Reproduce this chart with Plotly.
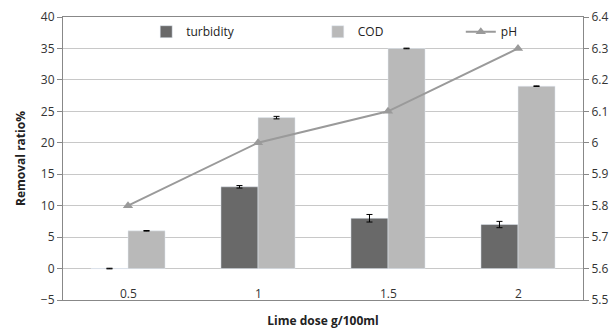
import plotly.graph_objects as go

categories = ["0.5", "1", "1.5", "2"]
turbidity = [0, 13, 8, 7]
turbidity_err = [0.05, 0.2, 0.6, 0.5]
cod = [6, 24, 35, 29]
cod_err = [0.05, 0.2, 0.05, 0.05]
ph = [5.8, 6.0, 6.1, 6.3]
left_ticks = list(range(-5, 41, 5))
right_ticks = [5.5, 5.6, 5.7, 5.8, 5.9, 6.0, 6.1, 6.2, 6.3, 6.4]
right_labels = ["5.5", "5.6", "5.7", "5.8", "5.9", "6", "6.1", "6.2", "6.3", "6.4"]

FONT = "Open Sans, Liberation Sans, sans-serif"
fig = go.Figure()
fig.add_trace(go.Bar(x=categories, y=turbidity, name="turbidity", marker_color="#696969",
                     error_y=dict(type="data", array=turbidity_err, color="black", thickness=1, width=3),
                     legend="legend"))
fig.add_trace(go.Bar(x=categories, y=cod, name="COD", marker_color="#b9b9b9",
                     error_y=dict(type="data", array=cod_err, color="black", thickness=1, width=3),
                     legend="legend2"))
fig.add_trace(go.Scatter(x=categories, y=ph, name="pH", yaxis="y2", mode="lines+markers",
                         line=dict(color="#9a9a9a", width=2),
                         marker=dict(symbol="triangle-up", size=9, color="#9a9a9a"),
                         legend="legend3"))

for i, c in enumerate(categories):
    fig.add_annotation(x=i, y=0, xref="x", yref="y", text=c, showarrow=False,
                       yanchor="top", yshift=-14, font=dict(size=12, color="#333", family=FONT))

leg = dict(orientation="h", yanchor="middle", xanchor="left", bgcolor="rgba(0,0,0,0)",
           font=dict(size=12, color="#222", family=FONT), itemwidth=30)
fig.update_layout(
    width=615, height=331,
    margin=dict(l=63, r=32, t=17, b=31),
    plot_bgcolor="white", paper_bgcolor="white",
    barmode="group", bargap=0.43, bargroupgap=0,
    font=dict(family=FONT, size=12, color="#333"),
    xaxis=dict(type="category", showticklabels=False, ticks="", showline=True, linecolor="#888", mirror=True,
               automargin=False,
               title=dict(text="<b>Lime dose g/100ml</b>", font=dict(size=12, color="#222"), standoff=16)),
    yaxis=dict(range=[-5, 40], tickvals=left_ticks, showgrid=True, gridcolor="#c8c8c8",
               zeroline=False, showline=True, linecolor="#888", ticks="outside", tickcolor="#888",
               ticklen=5, tickfont=dict(size=12, color="#333"), automargin=False,
               title=dict(text="<b>Removal ratio%</b>", font=dict(size=12, color="#222"), standoff=12)),
    yaxis2=dict(range=[5.5, 6.4], tickvals=right_ticks, ticktext=right_labels, overlaying="y",
                side="right", showgrid=False, zeroline=False, showline=True, linecolor="#888",
                ticks="outside", tickcolor="#888", ticklen=5, tickfont=dict(size=12, color="#333"),
                automargin=False),
    legend=dict(leg, x=0.16, y=0.948),
    legend2=dict(leg, x=0.49, y=0.948),
    legend3=dict(leg, x=0.765, y=0.948),
    showlegend=True,
)
fig.write_html("out.html")
